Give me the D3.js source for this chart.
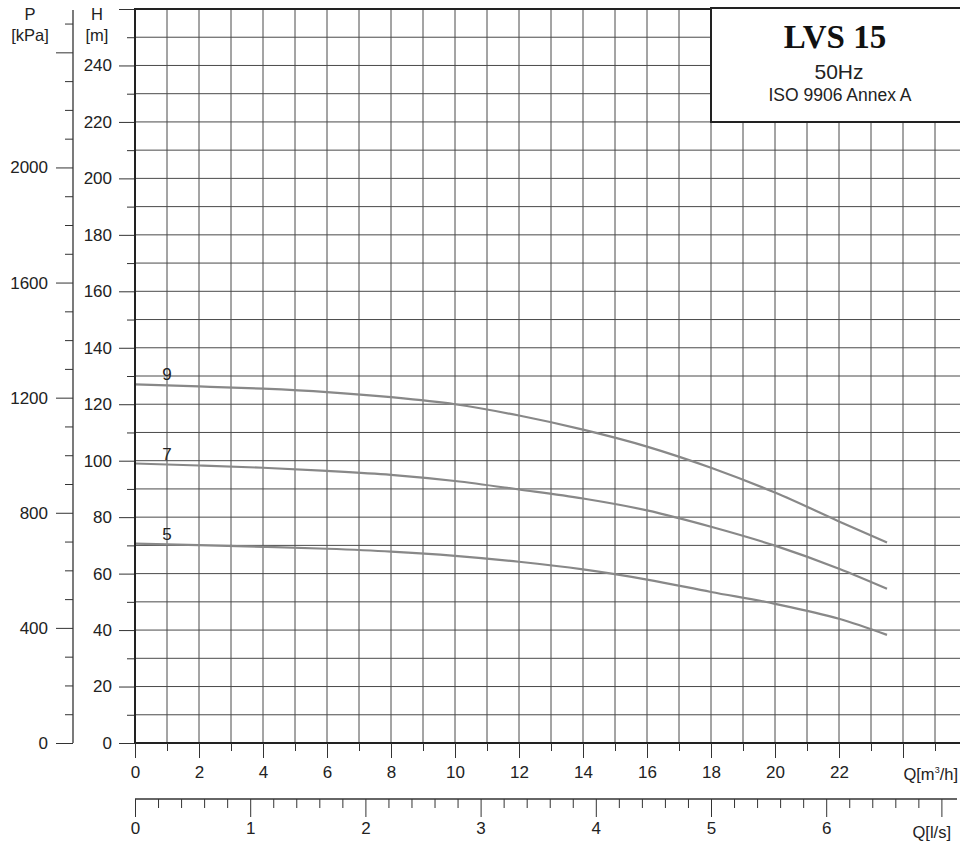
<!DOCTYPE html>
<html>
<head>
<meta charset="utf-8">
<script src="https://cdn.jsdelivr.net/npm/d3@7"></script>
<style>
  body { margin: 0; background: #fff; }
  svg { display: block; font-family: "Liberation Sans", Arial, sans-serif; }
  .grid line { stroke: #4a4a4a; stroke-width: 1; }
  .axis path, .axis line { stroke: #333; }
  .axis text { fill: #222; font-size: 17px; }
</style>
</head>
<body>
<div id="chart"></div>
<script>
// flow points (m3/h) and head (m)
const flowQ  = [0, 2, 4, 6, 8, 10, 12, 14, 16, 18, 20, 22, 23.5];
const head9  = [127, 126.3, 125.5, 124.3, 122.5, 120, 116, 111, 105, 97.5, 88.7, 78.5, 71];
const head7  = [99, 98.3, 97.5, 96.4, 95, 92.8, 89.8, 86.6, 82.4, 76.6, 69.9, 61.7, 54.6];
const head5  = [70.6, 70.1, 69.5, 68.8, 67.8, 66.3, 64.2, 61.5, 57.9, 53.5, 49.3, 44, 38.3];
const stages = ['9', '7', '5'];

// tick labels
const hTicks   = d3.range(0, 261, 20);    // labelled 0..240
const pTicks   = d3.range(0, 2401, 400);  // labelled 0..2000
const qTicks   = d3.range(0, 23, 2);      // 0..22
const lsTicks  = d3.range(0, 8, 1);       // 0..6

const W = 960, H = 847;
const svg = d3.select('#chart').append('svg').attr('width', W).attr('height', H);

const x = d3.scaleLinear().domain([0, 25.75]).range([135, 959]);
const y = d3.scaleLinear().domain([0, 260]).range([743, 9]);
const p = d3.scaleLinear().domain([0, 260 * 9.81]).range([743, 9]);
const xls = d3.scaleLinear().domain([0, 25.75 / 3.6]).range([135, 959]);

// grid
const grid = svg.append('g').attr('class', 'grid');
grid.selectAll('.v').data(d3.range(1, 26)).enter().append('line')
    .attr('x1', d => x(d)).attr('x2', d => x(d))
    .attr('y1', y(260)).attr('y2', y(0));
grid.selectAll('.h').data(d3.range(10, 260, 10)).enter().append('line')
    .attr('x1', x(0)).attr('x2', W)
    .attr('y1', d => y(d)).attr('y2', d => y(d));

// curves
const line = d3.line().x(d => x(d[0])).y(d => y(d[1])).curve(d3.curveMonotoneX);
const curves = [head9, head7, head5];
svg.selectAll('.curve').data(curves).enter().append('path')
    .attr('class', 'curve')
    .attr('d', hs => line(flowQ.map((q, i) => [q, hs[i]])))
    .attr('fill', 'none').attr('stroke', '#888').attr('stroke-width', 2.2);

svg.selectAll('.stage').data(stages).enter().append('text')
    .attr('x', x(1)).attr('y', (d, i) => y(curves[i][0]) - 4)
    .attr('text-anchor', 'middle').style('font-size', '17px').style('fill', '#222')
    .text(d => d);

// H axis (m)
const hMajor = d3.axisLeft(y).tickValues(hTicks).tickSize(16).tickPadding(7)
    .tickFormat(d => d === 260 ? '' : d);
const hMinor = d3.axisLeft(y).tickValues(d3.range(10, 260, 20)).tickSize(8).tickFormat('');
svg.append('g').attr('class', 'axis').attr('transform', `translate(${x(0)},0)`).call(hMinor)
    .select('.domain').remove();
svg.append('g').attr('class', 'axis').attr('transform', `translate(${x(0)},0)`).call(hMajor)
    .select('.domain').remove();

// P axis (kPa)
const pMajor = d3.axisLeft(p).tickValues(pTicks).tickSize(17).tickPadding(8)
    .tickFormat(d => d === 2400 ? '' : d);
const pMinor = d3.axisLeft(p).tickValues(d3.range(100, 2501, 100).filter(d => d % 400 !== 0))
    .tickSize(8).tickFormat('');
svg.append('g').attr('class', 'axis').attr('transform', 'translate(73,0)').call(pMinor)
    .select('.domain').remove();
svg.append('g').attr('class', 'axis').attr('transform', 'translate(73,0)').call(pMajor)
    .select('.domain').remove();
svg.append('line').attr('x1', 73).attr('x2', 73).attr('y1', 10).attr('y2', 743)
    .attr('stroke', '#333').attr('stroke-width', 1.3);

// frame (left + top + bottom)
svg.append('path')
    .attr('d', `M${W},${y(260)}H${x(0)}V${y(0)}H${W}`)
    .attr('fill', 'none').attr('stroke', '#222').attr('stroke-width', 2);

// Q m3/h axis
const qMajor = d3.axisBottom(x).tickValues(qTicks.concat([24])).tickSize(15).tickPadding(8)
    .tickFormat(d => d === 24 ? '' : d);
const qMinor = d3.axisBottom(x).tickValues(d3.range(1, 26, 2)).tickSize(8).tickFormat('');
svg.append('g').attr('class', 'axis').attr('transform', `translate(0,${y(0)})`).call(qMinor)
    .select('.domain').remove();
svg.append('g').attr('class', 'axis').attr('transform', `translate(0,${y(0)})`).call(qMajor)
    .select('.domain').remove();

// Q l/s axis
const lsMajor = d3.axisBottom(xls).tickValues(lsTicks).tickSize(18).tickPadding(5)
    .tickFormat(d => d === 7 ? '' : d);
const lsMinor = d3.axisBottom(xls).tickValues(d3.range(0.2, 7.1, 0.2).filter(d => Math.abs(d - Math.round(d)) > 0.01))
    .tickSize(9).tickFormat('');
svg.append('g').attr('class', 'axis').attr('transform', 'translate(0,799)').call(lsMinor)
    .select('.domain').remove();
svg.append('g').attr('class', 'axis').attr('transform', 'translate(0,799)').call(lsMajor)
    .select('.domain').remove();
svg.append('line').attr('x1', x(0)).attr('x2', 957).attr('y1', 799).attr('y2', 799)
    .attr('stroke', '#333').attr('stroke-width', 1.3);

// axis titles
const lbl = (t, xx, yy, anchor) => svg.append('text').attr('x', xx).attr('y', yy)
    .attr('text-anchor', anchor || 'middle').style('font-size', '16.5px').style('fill', '#222').text(t);
lbl('P', 30, 20);
lbl('[kPa]', 30, 41);
lbl('H', 97, 20);
lbl('[m]', 97, 41);
const qm = svg.append('text').attr('x', 958).attr('y', 780).attr('text-anchor', 'end')
    .style('font-size', '16.5px').style('fill', '#222');
qm.append('tspan').text('Q[m');
qm.append('tspan').text('3').style('font-size', '9px').attr('dy', -7);
qm.append('tspan').text('/h]').attr('dy', 7);
lbl('Q[l/s]', 951, 838, 'end');

// title box
svg.append('rect').attr('x', 711).attr('y', 8).attr('width', 260).attr('height', 114)
    .attr('fill', '#fff').attr('stroke', '#222').attr('stroke-width', 2);
svg.append('text').attr('x', 835).attr('y', 48).attr('text-anchor', 'middle')
    .style('font-family', '"Liberation Serif", "Times New Roman", serif')
    .style('font-weight', 'bold').style('font-size', '33px').style('fill', '#111').text('LVS 15');
svg.append('text').attr('x', 839).attr('y', 79).attr('text-anchor', 'middle')
    .style('font-size', '21px').style('fill', '#222').text('50Hz');
svg.append('text').attr('x', 840).attr('y', 101).attr('text-anchor', 'middle')
    .style('font-size', '17.5px').style('fill', '#222').text('ISO 9906 Annex A');
</script>
</body>
</html>
